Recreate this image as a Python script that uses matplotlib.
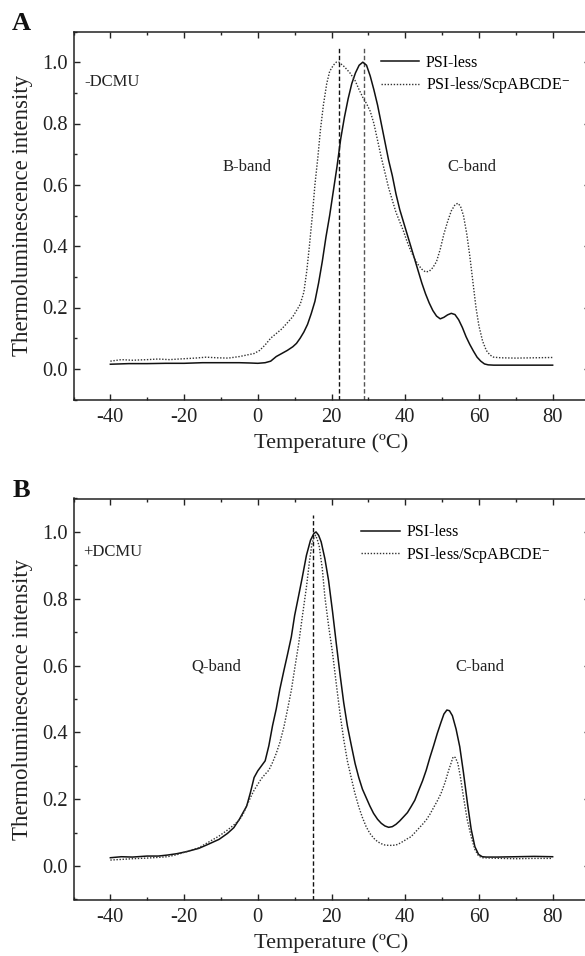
import matplotlib
matplotlib.use("Agg")
import matplotlib.pyplot as plt
from matplotlib.ticker import MultipleLocator

plt.rcParams['font.family'] = ['Liberation Serif', 'DejaVu Serif']
plt.rcParams['mathtext.fontset'] = 'stix'

# ---------------- Data ----------------
# Panel A (-DCMU)
a_solid_x = [-40, -35, -30, -25, -20, -15, -10, -5, -2, 0, 2, 3.5, 5, 6.5, 8, 9.5, 10.5, 11.5, 12.5,
             13.5, 14.5, 15.5, 16.5, 17.5, 18.5, 19.5, 20.5, 21.5, 22.5, 23.5, 24.5, 25.5, 26.5, 27.5,
             28.5, 29.5, 30.5, 31.5, 32.5, 33.5, 34.5, 35.5, 36.5, 37.5, 38.5, 39.5, 40.5, 41.5, 42.5,
             43.5, 44.5, 45.5, 46.5, 47.5, 48.5, 49.5, 50.5, 51.5, 52.5, 53.5, 54.5, 55.5, 56.5, 57.5,
             58.5, 59.5, 60.5, 61.5, 62.5, 64, 67, 70, 75, 80]
a_solid_y = [0.015, 0.017, 0.017, 0.018, 0.018, 0.02, 0.02, 0.02, 0.019, 0.018, 0.02, 0.025, 0.04, 0.05,
             0.06, 0.072, 0.083, 0.1, 0.12, 0.145, 0.18, 0.22, 0.28, 0.35, 0.43, 0.5, 0.58, 0.66, 0.75,
             0.82, 0.88, 0.93, 0.965, 0.99, 1.0, 0.99, 0.955, 0.91, 0.86, 0.8, 0.74, 0.68, 0.63, 0.57,
             0.52, 0.48, 0.44, 0.4, 0.36, 0.32, 0.28, 0.245, 0.215, 0.19, 0.172, 0.163, 0.168, 0.176,
             0.181, 0.177, 0.16, 0.135, 0.105, 0.08, 0.058, 0.038, 0.025, 0.016, 0.013, 0.012, 0.012,
             0.012, 0.012, 0.012]

a_dot_x = [-40, -37, -34, -30, -27, -24, -20, -17, -14, -11, -8, -5, -3, -1, 0.5, 2, 3.5, 5, 6.5, 8,
           9.5, 10.5, 11.5, 12.5, 13.3, 14, 14.8, 15.5, 16.3, 17, 17.8, 18.7, 19.5, 20.5, 21.3, 22,
           23.5, 25, 26.4, 27.5, 28.5, 29.5, 30.5, 31.5, 32.5, 33.5, 34.5, 35.5, 36.5, 37.5, 38.5,
           39.5, 40.5, 41.5, 42.5, 43.5, 44.5, 45.5, 46.5, 47.5, 48.5, 49.5, 50.5, 51.5, 52.5, 53.5,
           54.3, 55, 55.8, 56.7, 57.5, 58.3, 59.2, 60, 61, 62, 63, 64, 66, 70, 75, 80]
a_dot_y = [0.025, 0.03, 0.028, 0.03, 0.032, 0.03, 0.033, 0.035, 0.038, 0.036, 0.035, 0.04, 0.045,
           0.05, 0.06, 0.078, 0.1, 0.115, 0.13, 0.15, 0.17, 0.19, 0.21, 0.25, 0.32, 0.4, 0.5, 0.6,
           0.69, 0.78, 0.86, 0.93, 0.97, 0.99, 1.0, 1.0, 0.985, 0.965, 0.94, 0.91, 0.885, 0.865, 0.84,
           0.8, 0.745, 0.69, 0.64, 0.59, 0.55, 0.51, 0.48, 0.45, 0.415, 0.385, 0.36, 0.34, 0.325,
           0.316, 0.318, 0.33, 0.35, 0.39, 0.44, 0.48, 0.515, 0.535, 0.54, 0.53, 0.5, 0.44, 0.37,
           0.29, 0.2, 0.14, 0.09, 0.06, 0.045, 0.038, 0.036, 0.035, 0.036, 0.037]

# Panel B (+DCMU)
b_solid_x = [-40, -37, -34, -30, -27, -24.5, -22, -19.4, -16, -13.3, -10.5, -8.2, -6.5, -5, -4, -3,
             -2, -1, 0, 1, 2, 3, 4, 5, 6, 7.1, 8, 9.1, 10, 11.1, 12, 13.2, 14.3, 15.2, 15.8, 16.5,
             17.2, 18.2, 19.2, 20.3, 21.3, 22.3, 23.3, 24.3, 25.4, 26.4, 27.4, 28.4, 29.4, 30.4, 31.4,
             32.5, 33.5, 34.5, 35.5, 36.5, 37.5, 38.5, 39.6, 40.6, 41.6, 42.6, 43.6, 44.7, 45.7, 46.7,
             47.7, 48.7, 49.7, 50.5, 51.3, 52, 52.8, 53.8, 54.8, 55.8, 56.9, 57.9, 58.9, 59.9, 60.9,
             62, 65, 70, 75, 80]
b_solid_y = [0.025, 0.028, 0.027, 0.03, 0.03, 0.033, 0.037, 0.043, 0.053, 0.066, 0.08, 0.098, 0.115,
             0.14, 0.16, 0.18, 0.22, 0.265, 0.285, 0.3, 0.315, 0.36, 0.42, 0.47, 0.53, 0.586, 0.63,
             0.686, 0.75, 0.81, 0.86, 0.93, 0.975, 0.995, 1.0, 0.99, 0.97, 0.92, 0.855, 0.76, 0.666,
             0.575, 0.49, 0.42, 0.36, 0.307, 0.265, 0.23, 0.205, 0.18, 0.158, 0.14, 0.128, 0.12, 0.116,
             0.118, 0.125, 0.135, 0.148, 0.16, 0.178, 0.197, 0.225, 0.255, 0.287, 0.325, 0.36, 0.397,
             0.43, 0.455, 0.467, 0.465, 0.45, 0.41, 0.357, 0.28, 0.187, 0.11, 0.058, 0.035, 0.028,
             0.027, 0.027, 0.028, 0.029, 0.028]

b_dot_x = [-40, -37, -34, -30, -27, -24.5, -22, -19.4, -16, -13.3, -10.5, -8.2, -6.5, -5, -4, -3, -2,
           -1, 0, 1, 2, 3, 4, 5, 6, 7.1, 8, 9.1, 10, 11.1, 12, 13.2, 14, 14.7, 15.3, 15.7, 16.2, 16.7,
           17.5, 18.2, 19.2, 20.3, 21.3, 22.3, 23.3, 24.3, 25.3, 26.3, 27.4, 28.4, 29.4, 30.4, 31.5,
           32.5, 33.5, 34.5, 35.5, 36.5, 37.5, 38.5, 39.6, 40.6, 41.6, 42.6, 43.6, 44.7, 45.7, 46.7,
           47.7, 48.7, 49.7, 50.8, 51.8, 52.5, 53, 53.6, 54.3, 55, 55.8, 56.8, 57.9, 58.9, 59.9, 61,
           63, 66, 70, 75, 80]
b_dot_y = [0.018, 0.02, 0.022, 0.024, 0.026, 0.028, 0.034, 0.043, 0.055, 0.072, 0.09, 0.108, 0.123,
           0.138, 0.155, 0.18, 0.205, 0.227, 0.245, 0.262, 0.275, 0.287, 0.31, 0.337, 0.37, 0.417,
           0.465, 0.526, 0.59, 0.666, 0.74, 0.835, 0.91, 0.965, 0.985, 0.99, 0.975, 0.955, 0.89, 0.806,
           0.72, 0.636, 0.545, 0.457, 0.38, 0.315, 0.267, 0.22, 0.177, 0.145, 0.118, 0.098, 0.083,
           0.073, 0.067, 0.063, 0.062, 0.062, 0.063, 0.068, 0.075, 0.082, 0.088, 0.1, 0.112, 0.125,
           0.138, 0.155, 0.175, 0.195, 0.217, 0.25, 0.287, 0.31, 0.327, 0.325, 0.307, 0.265, 0.207,
           0.14, 0.088, 0.05, 0.03, 0.025, 0.024, 0.023, 0.022, 0.023, 0.023]

a_vlines = [22.0, 28.8]
b_vlines = [15.0]

labels = ['PSI-less', 'PSI-less/ScpABCDE$^{-}$']
xticks = [-40, -20, 0, 20, 40, 60, 80]
yticks = [0.0, 0.2, 0.4, 0.6, 0.8, 1.0]

W, H = 585, 956
fig = plt.figure(figsize=(W / 100, H / 100), dpi=100)


def px_axes(left, top, right, bottom):
    return fig.add_axes([left / W, 1 - bottom / H, (right - left) / W, (bottom - top) / H])


ax_a = px_axes(73.5, 31.5, 589.5, 399.5)
ax_b = px_axes(73.5, 498.5, 589.5, 899.5)


def style(ax):
    ax.set_xlim(-50, 90)
    ax.set_ylim(-0.1, 1.1)
    ax.set_xticks(xticks)
    ax.set_yticks(yticks)
    ax.xaxis.set_minor_locator(MultipleLocator(10))
    ax.yaxis.set_minor_locator(MultipleLocator(0.1))
    ax.set_xticklabels([str(t) for t in xticks])
    ax.set_yticklabels(['%.1f' % t for t in yticks])
    ax.tick_params(which='both', direction='in', top=True, right=True, width=1.0, color='#222222')
    ax.tick_params(which='major', length=4.5, labelsize=14.8, pad=4, labelcolor='#222222')
    ax.tick_params(axis='x', which='major', pad=6)
    ax.tick_params(which='minor', length=2.5)
    for s in ax.spines.values():
        s.set_linewidth(1.1)
        s.set_color('#222222')
    ax.set_xlabel('Temperature (ºC)', fontsize=16, color='#222222', labelpad=4.5)
    ax.set_ylabel('Thermoluminescence intensity', fontsize=16.5, color='#222222')
    ax.yaxis.set_label_coords(-0.078, 0.5)


def draw(ax, sx, sy, dx, dy, vlines, vcolors):
    for v, c in zip(vlines, vcolors):
        ax.axvline(v, ymin=0, ymax=0.96, color=c, lw=1.0, linestyle=(0, (3.2, 1.8)))
    ax.plot(sx, sy, color='#111111', lw=1.1, label=labels[0])
    ax.plot(dx, dy, color='#333333', lw=1.0, linestyle=(0, (1, 1.2)), label=labels[1])


draw(ax_a, a_solid_x, a_solid_y, a_dot_x, a_dot_y, a_vlines, ['#111111', '#555555'])
draw(ax_b, b_solid_x, b_solid_y, b_dot_x, b_dot_y, b_vlines, ['#111111'])
style(ax_a)
style(ax_b)

ax_a.legend(loc='upper left', bbox_to_anchor=(0.596, 0.937), frameon=False, fontsize=11.5,
            handlelength=2.4, handletextpad=0.4, borderpad=0, borderaxespad=0, labelspacing=0.3)
ax_b.legend(loc='upper left', bbox_to_anchor=(0.558, 0.936), frameon=False, fontsize=11.5,
            handlelength=2.4, handletextpad=0.4, borderpad=0, borderaxespad=0, labelspacing=0.3)

tc = '#222222'
ax_a.text(-47.0, 0.934, '-DCMU', fontsize=12, va='center', ha='left', color=tc)
ax_a.text(-2.8, 0.659, 'B-band', fontsize=12, va='center', ha='center', color=tc)
ax_a.text(58.0, 0.657, 'C-band', fontsize=12, va='center', ha='center', color=tc)
ax_b.text(-47.3, 0.94, '+DCMU', fontsize=12, va='center', ha='left', color=tc)
ax_b.text(-11.2, 0.596, 'Q-band', fontsize=12, va='center', ha='center', color=tc)
ax_b.text(60.2, 0.596, 'C-band', fontsize=12, va='center', ha='center', color=tc)

fig.text(21 / W, 1 - 24 / H, 'A', fontsize=19, fontweight='bold', ha='center', va='center', color='#111111')
fig.text(21 / W, 1 - 491 / H, 'B', fontsize=19, fontweight='bold', ha='center', va='center', color='#111111')

fig.savefig('out.png', dpi=100)
